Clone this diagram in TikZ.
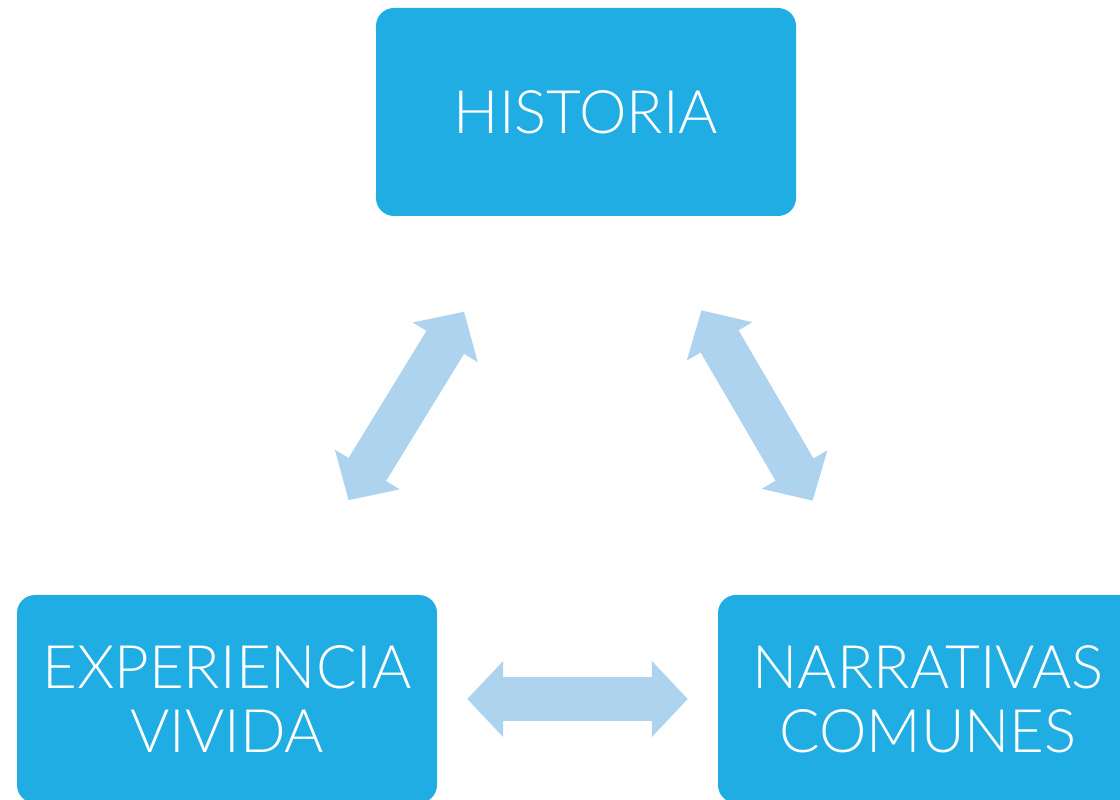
\documentclass[tikz,border=0pt]{standalone}
\usepackage{fontspec}
\setmainfont{Lato Light}
\usetikzlibrary{arrows.meta, positioning}
\definecolor{boxblue}{HTML}{1FADE3}
\definecolor{arrowblue}{HTML}{ADD3EF}

\begin{document}
\begin{tikzpicture}[x=1pt, y=1pt,
    block/.style={fill=boxblue, rounded corners=18pt, minimum width=420pt, minimum height=208pt,
                  inner sep=0pt, text=white, align=center, font=\fontsize{60}{64}\selectfont},
    link/.style={arrowblue, line width=44pt,
                 {Triangle[width=74pt,length=36pt]}-{Triangle[width=74pt,length=36pt]}}]
    \useasboundingbox (0,0) rectangle (1120,800);
    \node[block] (hist) at (586,688) {HISTORIA};
    \node[block] (exp)  at (227,101) {EXPERIENCIA\\VIVIDA};
    \node[block] (narr) at (928,101) {NARRATIVAS\\COMUNES};
    \draw[link, shorten <=111pt, shorten >=112pt] (exp) -- (hist);
    \draw[link, shorten <=109pt, shorten >=109pt] (hist) -- (narr);
    \draw[link, shorten <=30pt, shorten >=30pt] (exp) -- (narr);
\end{tikzpicture}
\end{document}
